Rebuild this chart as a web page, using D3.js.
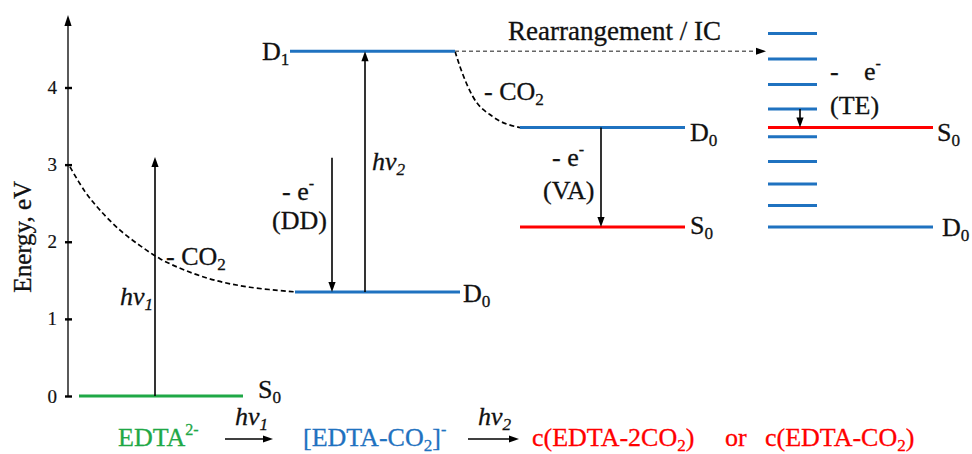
<!DOCTYPE html>
<html>
<head>
<meta charset="utf-8">
<script src="https://cdn.jsdelivr.net/npm/d3@7"></script>
<style>
  html, body { margin: 0; padding: 0; background: #fff; }
  svg { display: block; font-family: "Liberation Serif", "Times New Roman", serif; }
</style>
</head>
<body>
<svg id="chart" width="972" height="454"></svg>
<script>
// ---- Data: energies in eV ----
const energyTicks = [0, 1, 2, 3, 4];

// Electronic states: letter, index, energy, species group
const levelNames    = ["S", "D", "D", "D", "S", "S", "D"];
const levelIndex    = ["0", "0", "1", "0", "0", "0", "0"];
const levelEnergies = [0.00, 1.35, 4.47, 3.48, 2.19, 3.48, 2.19];
const levelSpecies  = ["EDTA", "EDTA-CO2", "EDTA-CO2", "VA", "VA", "TE", "TE"];

// Dense manifold of the rearranged species
const ladderEnergies = [4.70, 4.37, 4.04, 3.72, 3.36, 3.04, 2.75, 2.47];

// Decarboxylation paths (energy along the path)
const decarbCurveA = [2.97, 2.65, 2.41, 2.15, 1.95, 1.78, 1.63, 1.50, 1.41, 1.35];
const decarbCurveB = [4.47, 4.27, 3.88, 3.62, 3.48];

// Vertical transitions
const transitionNames = ["hv1", "hv2", "DD", "VA", "TE"];
const transitionFrom  = [0.00, 1.35, 3.09, 3.48, 3.72];
const transitionTo    = [3.10, 4.47, 1.35, 2.19, 3.48];

// ---- Styling ----
const BLUE = "#1f72c0", RED = "#ff0000", GREEN = "#1fa846";
const FS = 26;
const FONT = "Liberation Serif, Times New Roman, serif";

// ---- Layout ----
const svg = d3.select("#chart");
const y = d3.scaleLinear().domain([0, 4]).range([396, 87.5]);
const axisX = 68;

// horizontal extent of each level and where its label sits
const levelLayout = [
  { x0: 79,  x1: 243, lx: 258, dy: 2 },
  { x0: 295, x1: 460, lx: 463, dy: 10 },
  { x0: 290, x1: 455, lx: 262, dy: 9 },
  { x0: 520, x1: 685, lx: 690, dy: 13 },
  { x0: 520, x1: 685, lx: 690, dy: 7 },
  { x0: 768, x1: 933, lx: 937, dy: 13 },
  { x0: 768, x1: 933, lx: 942, dy: 9 }
];
const ladderX = [768, 817];
const curveAX = [70, 85, 100, 120, 140, 160, 185, 215, 250, 295];
const curveBX = [455, 460, 473, 493, 520];
const transitionX = [155, 365, 332, 601, 800];

function levelColor(i) {
  if (levelSpecies[i] === "EDTA") return GREEN;
  return levelNames[i] === "D" ? BLUE : RED;
}

// rich text: segments [text, kind] with kind in n | sub | sup | i | isub
function rich(parent, x, yb, segs, opt = {}) {
  const size = opt.size || FS;
  const fill = opt.fill || "#111";
  const t = parent.append("text")
    .attr("x", x).attr("y", yb)
    .attr("font-family", FONT)
    .attr("font-size", size)
    .attr("fill", fill)
    .attr("stroke", fill).attr("stroke-width", 0.3)
    .attr("text-anchor", opt.anchor || "start");
  let shift = 0;
  segs.forEach(([txt, kind]) => {
    let target = 0, fs = size, style = null;
    if (kind === "sub" || kind === "isub") { target = size * 0.2; fs = size * 0.66; }
    if (kind === "sup") { target = -size * 0.42; fs = size * 0.62; }
    if (kind === "i" || kind === "isub") style = "italic";
    const sp = t.append("tspan").attr("font-size", fs).text(txt);
    if (style) sp.attr("font-style", style);
    if (target !== shift) { sp.attr("dy", target - shift); shift = target; }
  });
  return t;
}

function arrowHead(g, x, yTip, dir, color = "#000", len = 10, half = 3.6) {
  // dir: +1 pointing down, -1 pointing up, "right" for horizontal
  let p;
  if (dir === "right") p = [[x, yTip], [x - len, yTip - half], [x - len, yTip + half]];
  else p = [[x, yTip], [x - half, yTip - dir * len], [x + half, yTip - dir * len]];
  g.append("path").attr("d", "M" + p.join("L") + "Z").attr("fill", color);
}

// ---- Axis ----
const axisG = svg.append("g").attr("transform", `translate(${axisX},0)`);
axisG.call(d3.axisLeft(y).tickValues(energyTicks).tickSize(3).tickPadding(8).tickFormat(d3.format("d")));
axisG.select(".domain").remove();
axisG.selectAll(".tick line").attr("x1", 4).attr("stroke", "#000").attr("stroke-width", 2.4);
axisG.selectAll(".tick text")
  .attr("font-family", FONT).attr("font-size", 19).attr("fill", "#111")
  .attr("stroke", "#111").attr("stroke-width", 0.2);
axisG.append("line").attr("x1", 0).attr("x2", 0).attr("y1", y(0)).attr("y2", 22)
  .attr("stroke", "#000").attr("stroke-width", 1.3);
arrowHead(axisG, 0, 15, -1, "#000", 11, 3.6);

svg.append("text")
  .attr("transform", `translate(31,${(y(0) + 87.5) / 2 - 5}) rotate(-90)`)
  .attr("text-anchor", "middle").attr("font-family", FONT).attr("font-size", 25)
  .attr("fill", "#111").attr("stroke", "#111").attr("stroke-width", 0.3)
  .text("Energy, eV");

// ---- Dashed paths ----
const dashG = svg.append("g").attr("fill", "none").attr("stroke", "#000")
  .attr("stroke-width", 1.7).attr("stroke-dasharray", "5,3");
const lineA = d3.line().x((d, i) => curveAX[i]).y(d => y(d)).curve(d3.curveCatmullRom.alpha(0.5));
dashG.append("path").attr("d", lineA(decarbCurveA));
const lineB = d3.line().x((d, i) => curveBX[i]).y(d => y(d)).curve(d3.curveMonotoneX);
dashG.append("path").attr("d", lineB(decarbCurveB));

// Rearrangement / IC: from D1 to the rearranged manifold
const d1 = levelEnergies[2];
svg.append("line")
  .attr("x1", levelLayout[2].x1).attr("x2", 757)
  .attr("y1", y(d1)).attr("y2", y(d1))
  .attr("stroke", "#666").attr("stroke-width", 1.3).attr("stroke-dasharray", "4,3");
arrowHead(svg, 766, y(d1), "right", "#000", 10, 3.6);

// ---- Levels ----
const lvG = svg.append("g");
lvG.selectAll("line.lv").data(levelEnergies).join("line")
  .attr("class", "lv")
  .attr("x1", (d, i) => levelLayout[i].x0).attr("x2", (d, i) => levelLayout[i].x1)
  .attr("y1", d => y(d)).attr("y2", d => y(d))
  .attr("stroke", (d, i) => levelColor(i)).attr("stroke-width", 3);

lvG.selectAll("line.ladder").data(ladderEnergies).join("line")
  .attr("class", "ladder")
  .attr("x1", ladderX[0]).attr("x2", ladderX[1])
  .attr("y1", d => y(d)).attr("y2", d => y(d))
  .attr("stroke", BLUE).attr("stroke-width", 3);

// red S0 drawn over the manifold
lvG.append("line")
  .attr("x1", levelLayout[5].x0).attr("x2", levelLayout[5].x1)
  .attr("y1", y(levelEnergies[5])).attr("y2", y(levelEnergies[5]))
  .attr("stroke", RED).attr("stroke-width", 3);

levelEnergies.forEach((e, i) => {
  rich(svg, levelLayout[i].lx, y(e) + levelLayout[i].dy,
    [[levelNames[i], "n"], [levelIndex[i], "sub"]]);
});

// ---- Transitions ----
const trG = svg.append("g");
transitionNames.forEach((n, i) => {
  const x = transitionX[i];
  const y0 = y(transitionFrom[i]), y1 = y(transitionTo[i]);
  const dir = y1 > y0 ? 1 : -1;
  trG.append("line").attr("x1", x).attr("x2", x)
    .attr("y1", y0).attr("y2", y1 - dir * 8)
    .attr("stroke", "#000").attr("stroke-width", 1.6);
  arrowHead(trG, x, y1, dir, "#000", 10, 3.6);
});

// ---- Annotations ----
rich(svg, 120, 305, [["h", "i"], ["ν", "i"], ["1", "isub"]]);
rich(svg, 372, 170, [["h", "i"], ["ν", "i"], ["2", "isub"]]);
rich(svg, 166, 265, [["- CO", "n"], ["2", "sub"]]);
rich(svg, 484, 100, [["- CO", "n"], ["2", "sub"]]);
rich(svg, 282, 200, [["- e", "n"], ["-", "sup"]]);
rich(svg, 272, 229, [["(DD)", "n"]]);
rich(svg, 552, 166, [["- e", "n"], ["-", "sup"]]);
rich(svg, 543, 199, [["(VA)", "n"]]);
rich(svg, 830, 80, [["-", "n"]]);
rich(svg, 864, 80, [["e", "n"], ["-", "sup"]]);
rich(svg, 830, 114, [["(TE)", "n"]]);
rich(svg, 508, 40, [["Rearrangement / IC", "n"]], { size: 27 });

// ---- Reaction scheme ----
const schemeY = 446;
rich(svg, 118, schemeY, [["EDTA", "n"], ["2-", "sup"]], { fill: GREEN });
rich(svg, 303, schemeY, [["[EDTA-CO", "n"], ["2", "sub"], ["]", "n"], ["-", "sup"]], { fill: BLUE });
rich(svg, 532, schemeY, [["c(EDTA-2CO", "n"], ["2", "sub"], [")", "n"]], { fill: RED });
rich(svg, 725, schemeY, [["or", "n"]], { fill: RED });
rich(svg, 765, schemeY, [["c(EDTA-CO", "n"], ["2", "sub"], [")", "n"]], { fill: RED });

const schemeArrows = [[225, 273, "1"], [468, 519, "2"]];
schemeArrows.forEach(([a, b, k]) => {
  svg.append("line").attr("x1", a).attr("x2", b - 8).attr("y1", 439).attr("y2", 439)
    .attr("stroke", "#000").attr("stroke-width", 1.3);
  arrowHead(svg, b, 439, "right", "#000", 10, 3.4);
  rich(svg, a + 10, 425, [["h", "i"], ["ν", "i"], [k, "isub"]]);
});
</script>
</body>
</html>
